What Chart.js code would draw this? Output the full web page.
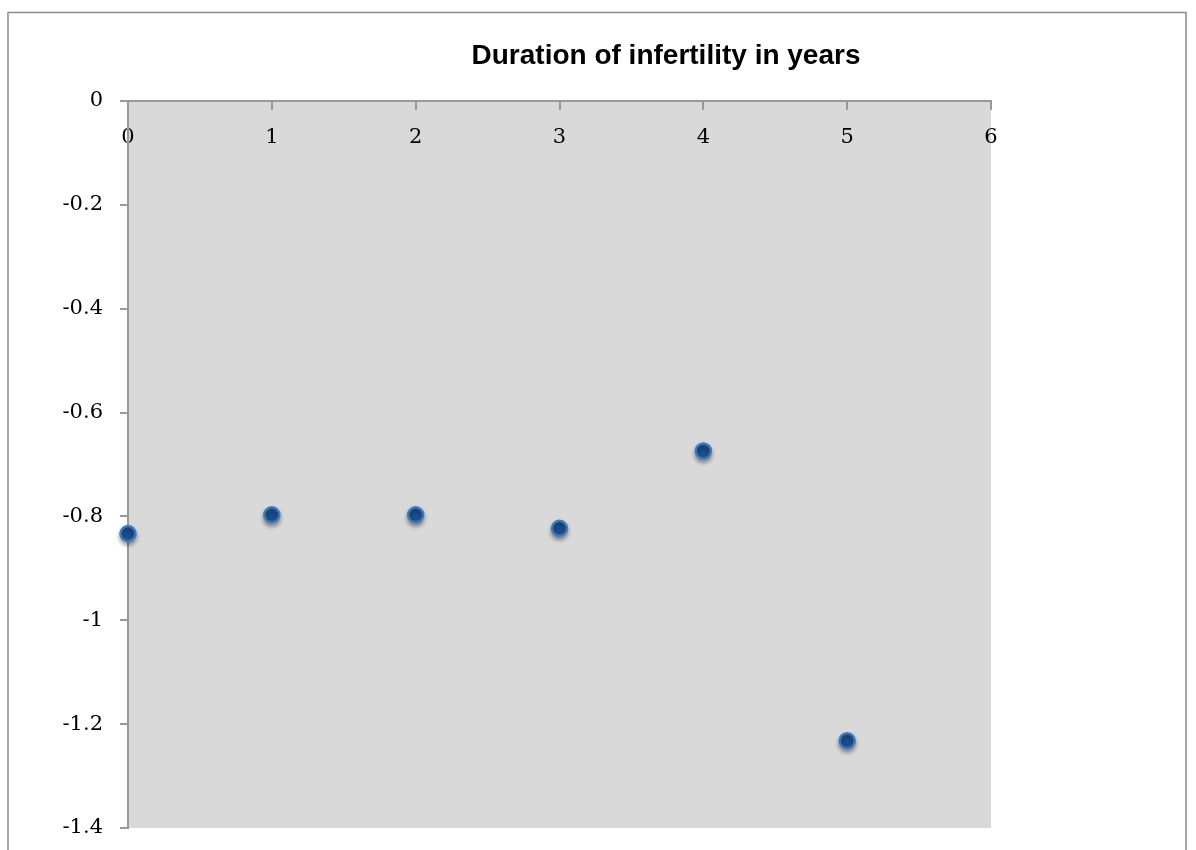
<!DOCTYPE html>
<html>
<head>
<meta charset="utf-8">
<script src="https://cdn.jsdelivr.net/npm/chart.js@4"></script>
<style>
  body { margin: 0; background: #fff; }
  #wrap { width: 1196px; height: 850px; }
</style>
</head>
<body>
<div id="wrap"><canvas id="chart" width="1196" height="850"></canvas></div>
<script>
const chartTitle = "Duration of infertility in years";
const xValues = [0, 1, 2, 3, 4, 5];
const yValues = [-0.833, -0.797, -0.797, -0.823, -0.674, -1.232];
const xTicks = [0, 1, 2, 3, 4, 5, 6];
const yTicks = [0, -0.2, -0.4, -0.6, -0.8, -1, -1.2, -1.4];

const points = xValues.map((x, i) => ({ x: x, y: yValues[i] }));

// gray plot area, outer frame and the title
const decor = {
    id: "decor",
    beforeDraw(chart) {
        const ctx = chart.ctx;
        const a = chart.chartArea;
        ctx.save();
        ctx.fillStyle = "#d9d9d9";
        ctx.fillRect(a.left, a.top, a.right - a.left, a.bottom - a.top);
        ctx.strokeStyle = "#8a8a8a";
        ctx.lineWidth = 1.5;
        ctx.beginPath();
        ctx.moveTo(8, 850);
        ctx.lineTo(8, 12.5);
        ctx.lineTo(1186, 12.5);
        ctx.lineTo(1186, 850);
        ctx.stroke();
        ctx.fillStyle = "#000";
        ctx.font = "bold 28px 'Liberation Sans', Arial, sans-serif";
        ctx.textAlign = "center";
        ctx.textBaseline = "alphabetic";
        ctx.fillText(chartTitle, 666, 64);
        ctx.restore();
    },
    beforeDatasetsDraw(chart) {
        const ctx = chart.ctx;
        ctx.save();
        ctx.shadowColor = "rgba(0,0,0,0.35)";
        ctx.shadowBlur = 4;
        ctx.shadowOffsetY = 3;
    },
    afterDatasetsDraw(chart) {
        chart.ctx.restore();
    }
};

new Chart(document.getElementById("chart"), {
    type: "scatter",
    data: {
        datasets: [{
            data: points,
            pointRadius: 7.5,
            pointHoverRadius: 7.5,
            borderWidth: 2.5,
            backgroundColor: "#1c4e8a",
            borderColor: "#3a78c2",
            clip: false
        }]
    },
    options: {
        responsive: false,
        animation: false,
        layout: { padding: { top: 101, right: 205, bottom: 22, left: 0 } },
        plugins: {
            legend: { display: false },
            tooltip: { enabled: false }
        },
        scales: {
            x: {
                type: "linear",
                position: { y: 0 },
                min: xTicks[0],
                max: xTicks[xTicks.length - 1],
                afterBuildTicks: scale => { scale.ticks = xTicks.map(v => ({ value: v })); },
                grid: { drawOnChartArea: false, drawTicks: true, tickLength: 8, color: "#999", lineWidth: 2 },
                border: { color: "#999", width: 2 },
                ticks: {
                    padding: 16,
                    color: "#000",
                    font: { family: "'DejaVu Serif', serif", size: 21 },
                    callback: v => String(v)
                }
            },
            y: {
                type: "linear",
                min: -1.4,
                max: 0,
                afterBuildTicks: scale => { scale.ticks = yTicks.map(v => ({ value: v })); },
                afterFit: scale => {
                    scale.width = 128;
                    scale.paddingBottom = 0;
                },
                grid: { drawOnChartArea: false, drawTicks: true, tickLength: 8, color: "#999", lineWidth: 2 },
                border: { color: "#999", width: 2 },
                ticks: {
                    padding: 17,
                    color: "#000",
                    font: { family: "'DejaVu Serif', serif", size: 21 },
                    callback: v => String(Math.round(v * 10) / 10)
                }
            }
        }
    },
    plugins: [decor]
});
</script>
</body>
</html>
